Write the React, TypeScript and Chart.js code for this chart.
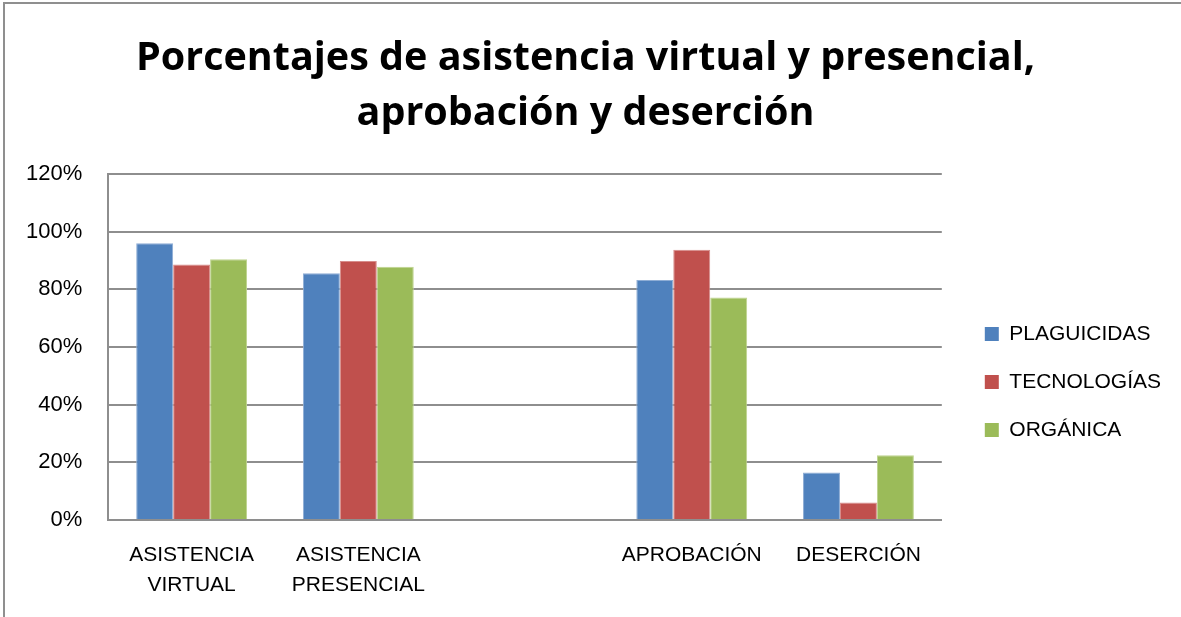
import React, { useEffect, useRef } from "react";
import { Chart, registerables } from "chart.js";

Chart.register(...registerables);

const titleLines = ["Porcentajes de asistencia virtual y presencial,", "aprobación y deserción"];
const categories: (string | string[])[] = [
  ["ASISTENCIA", "VIRTUAL"],
  ["ASISTENCIA", "PRESENCIAL"],
  "",
  "APROBACIÓN",
  "DESERCIÓN",
];
const seriesNames = ["PLAGUICIDAS", "TECNOLOGÍAS", "ORGÁNICA"];
const plaguicidas = [96, 85.6, null, 83.2, 16.5];
const tecnologias = [88.6, 89.8, null, 93.7, 6.1];
const organica = [90.4, 87.8, null, 77.2, 22.5];
const seriesColors = ["#4F81BD", "#C0504D", "#9BBB59"];
const seriesEdges = ["#8EADD5", "#D78D8B", "#BED38F"];
const yMax = 120;
const yStep = 20;

const FONT = "'Liberation Sans', Arial, sans-serif";

export default function App() {
  const ref = useRef<HTMLCanvasElement | null>(null);

  useEffect(() => {
    if (!ref.current) return;
    const values = [plaguicidas, tecnologias, organica];
    const chart = new Chart(ref.current, {
      type: "bar",
      data: {
        labels: categories,
        datasets: seriesNames.map((name, i) => ({
          label: name,
          data: values[i],
          backgroundColor: seriesColors[i],
          borderColor: seriesEdges[i],
          borderWidth: 1,
          barPercentage: 1,
          categoryPercentage: 0.665,
        })),
      },
      options: {
        animation: false,
        responsive: false,
        maintainAspectRatio: false,
        layout: { padding: { left: 0, right: 10, top: 0, bottom: 0 } },
        plugins: {
          title: {
            display: true,
            text: titleLines,
            color: "#000",
            font: { family: "'Open Sans', sans-serif", size: 39.5, weight: "bold", lineHeight: 55 / 39.5 },
            padding: { top: 31, bottom: 33 },
          },
          legend: {
            display: true,
            position: "right",
            fullSize: false,
            align: "center",
            maxWidth: 280,
            title: {
              display: true,
              text: " ",
              color: "rgba(0,0,0,0)",
              font: { size: 14, lineHeight: 1 },
              padding: { top: 28, bottom: 28 },
            },
            labels: {
              boxWidth: 14,
              boxHeight: 14,
              padding: 27,
              color: "#000",
              font: { family: FONT, size: 21 },
              generateLabels: (c: any) =>
                c.data.datasets.map((ds: any, i: number) => ({
                  text: ds.label,
                  fillStyle: seriesColors[i],
                  strokeStyle: seriesColors[i],
                  lineWidth: 0,
                  fontColor: "#000",
                  datasetIndex: i,
                  hidden: false,
                })),
            },
          },
          tooltip: { enabled: false },
        },
        scales: {
          x: {
            grid: { display: false, drawTicks: false },
            border: { display: true, color: "#8e8e8e", width: 2 },
            ticks: {
              color: "#000",
              font: { family: FONT, size: 21, lineHeight: 30 / 21 },
              padding: 20,
              maxRotation: 0,
              autoSkip: false,
            },
          },
          y: {
            min: 0,
            max: yMax,
            grid: { color: "#8e8e8e", lineWidth: 2, drawTicks: false },
            border: { display: true, color: "#8e8e8e", width: 2 },
            ticks: {
              stepSize: yStep,
              color: "#000",
              font: { family: FONT, size: 22 },
              padding: 26,
              callback: (v: any) => `${v}%`,
            },
          },
          y2: {
            position: "right",
            display: true,
            grid: { display: false, drawTicks: false },
            border: { display: false },
            ticks: { display: false },
            afterFit: (s: any) => {
              s.width = 16;
            },
          },
        },
      },
    });
    return () => chart.destroy();
  }, []);

  return (
    <div style={{ position: "fixed", left: 0, top: 0, width: 1181, height: 617, background: "#fff", overflow: "hidden" }}>
      <div
        style={{
          position: "absolute",
          left: 3,
          top: 2,
          width: 1200,
          height: 640,
          border: "2px solid #8f8f8f",
          boxSizing: "border-box",
        }}
      />
      <canvas ref={ref} width={1181} height={620} style={{ position: "absolute", left: 0, top: 0, width: 1181, height: 620 }} />
    </div>
  );
}
